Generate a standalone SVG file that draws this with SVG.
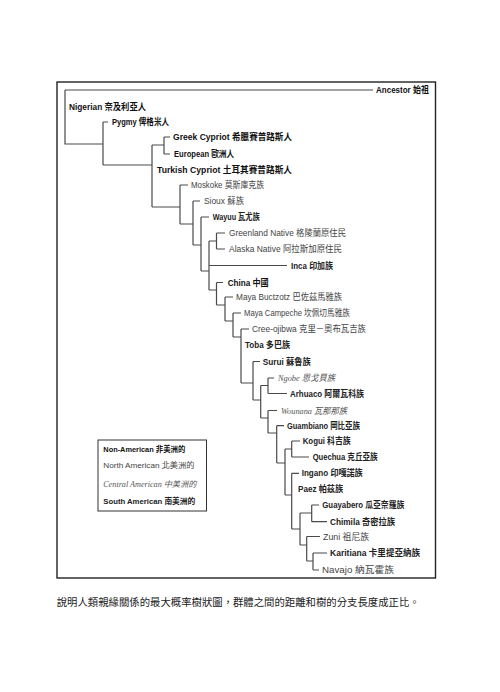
<svg xmlns="http://www.w3.org/2000/svg" width="500" height="692" viewBox="0 0 500 692">
<style>
.bg{fill:#fff}
.frame{fill:none;stroke:#222;stroke-width:1.4}
.lg{fill:none;stroke:#333;stroke-width:1}
.c{fill:none;stroke:#4a4a4a;stroke-width:1.2}
text{font-size:9px}
.n{font-family:"Liberation Sans","Noto Sans CJK TC",sans-serif;font-weight:bold;fill:#111}
.na{font-family:"Liberation Sans","Noto Sans CJK TC",sans-serif;fill:#444}
.ca{font-family:"Liberation Serif","Noto Sans CJK TC",serif;font-style:italic;fill:#555}
.sa{font-family:"Liberation Sans","Noto Sans CJK TC",sans-serif;font-weight:bold;fill:#222}
.leg{font-size:8px}
.cap{font-family:"Noto Sans CJK TC","Noto Sans CJK SC",sans-serif;font-size:10.5px;fill:#222}
</style>
<rect class="bg" x="0" y="0" width="500" height="692"/>
<rect class="frame" x="57" y="82" width="378.5" height="496"/>
<g id="connectors">
<path class="c" d="M65,90H373M65,90V144H103M103,122V165M103,122H108M103,165H152M152,145V207M152,145H164M164,137V154M164,137H170M164,154H170M152,207H180M180,185V224M180,185H188M180,224H193M193,201V245M193,201H200M193,245H201M201,217V271M201,217H209M201,271H209M209,241V290M209,241H216.5M216.5,233V249M216.5,233H225M216.5,249H225M209,265.5H287M209,290H216.5M216.5,282.5V305M216.5,282.5H223M216.5,305H225M225,297V321M225,297H233M225,321H233M233,313V337M233,313H241M233,337H241M241,329V383M241,329H249M241,383H253M253,361.5V400M253,361.5H260M253,400H260.7M260.7,385.5V418M260.7,385.5H268M268,378V393.5M268,378H274M268,393.5H287M260.7,418H268M268,410.5V433M268,410.5H277M268,433H276.7M276.7,425.7V463M276.7,425.7H284M276.7,463H285M285,449V495M285,449H291.7M291.7,441V457M291.7,441H300M291.7,457H309M285,495H291.7M291.7,473.3V529M291.7,473.3H299M291.7,529H300M300,513V545M300,513H311.7M311.7,505V521.7M311.7,505H319M311.7,521.7H327M300,545H306.7M306.7,536.5V561M306.7,536.5H320M306.7,561H313M313,553V570M313,553H327M313,570H319"/>
</g>
<g id="ancestor"><text class="n" x="376" y="93" textLength="53" lengthAdjust="spacingAndGlyphs">Ancestor 始祖</text></g>
<g id="nigerian"><text class="n" x="69" y="110" textLength="77" lengthAdjust="spacingAndGlyphs">Nigerian 奈及利亞人</text></g>
<g id="pygmy"><text class="n" x="112" y="125" textLength="57" lengthAdjust="spacingAndGlyphs">Pygmy 俾格米人</text></g>
<g id="greek-cypriot"><text class="n" x="173" y="140" textLength="119" lengthAdjust="spacingAndGlyphs">Greek Cypriot 希臘賽普路斯人</text></g>
<g id="european"><text class="n" x="174" y="157" textLength="60" lengthAdjust="spacingAndGlyphs">European 歐洲人</text></g>
<g id="turkish-cypriot"><text class="n" x="157" y="173" textLength="135" lengthAdjust="spacingAndGlyphs">Turkish Cypriot 土耳其賽普路斯人</text></g>
<g id="moskoke"><text class="na" x="191" y="188" textLength="73" lengthAdjust="spacingAndGlyphs">Moskoke 莫斯庫克族</text></g>
<g id="sioux"><text class="na" x="204" y="204" textLength="40" lengthAdjust="spacingAndGlyphs">Sioux 蘇族</text></g>
<g id="wayuu"><text class="sa" x="212.7" y="220" textLength="47" lengthAdjust="spacingAndGlyphs">Wayuu 瓦尤族</text></g>
<g id="greenland-native"><text class="na" x="229" y="235.7" textLength="117" lengthAdjust="spacingAndGlyphs">Greenland Native 格陵蘭原住民</text></g>
<g id="alaska-native"><text class="na" x="229" y="252" textLength="113" lengthAdjust="spacingAndGlyphs">Alaska Native 阿拉斯加原住民</text></g>
<g id="inca"><text class="sa" x="291" y="268.5" textLength="42" lengthAdjust="spacingAndGlyphs">Inca 印加族</text></g>
<g id="china"><text class="n" x="227.7" y="285.5" textLength="41" lengthAdjust="spacingAndGlyphs">China 中國</text></g>
<g id="maya-buctzotz"><text class="na" x="236" y="300" textLength="106" lengthAdjust="spacingAndGlyphs">Maya Buctzotz 巴佐茲馬雅族</text></g>
<g id="maya-campeche"><text class="na" x="244" y="316" textLength="106" lengthAdjust="spacingAndGlyphs">Maya Campeche 坎佩切馬雅族</text></g>
<g id="cree-ojibwa"><text class="na" x="252" y="332" textLength="114" lengthAdjust="spacingAndGlyphs">Cree-ojibwa 克里－奧布瓦吉族</text></g>
<g id="toba"><text class="sa" x="245" y="347.5" textLength="45" lengthAdjust="spacingAndGlyphs">Toba 多巴族</text></g>
<g id="surui"><text class="sa" x="262.7" y="364.5" textLength="48" lengthAdjust="spacingAndGlyphs">Surui 蘇魯族</text></g>
<g id="ngobe"><text class="ca" x="278" y="381" textLength="57" lengthAdjust="spacingAndGlyphs">Ngobe 恩戈貝族</text></g>
<g id="arhuaco"><text class="sa" x="290" y="396.5" textLength="74" lengthAdjust="spacingAndGlyphs">Arhuaco 阿爾瓦科族</text></g>
<g id="wounana"><text class="ca" x="281" y="413.5" textLength="66" lengthAdjust="spacingAndGlyphs">Wounana 瓦那那族</text></g>
<g id="guambiano"><text class="sa" x="287" y="428.7" textLength="73" lengthAdjust="spacingAndGlyphs">Guambiano 岡比亞族</text></g>
<g id="kogui"><text class="sa" x="302.7" y="444" textLength="48" lengthAdjust="spacingAndGlyphs">Kogui 科吉族</text></g>
<g id="quechua"><text class="sa" x="312.7" y="460" textLength="65" lengthAdjust="spacingAndGlyphs">Quechua 克丘亞族</text></g>
<g id="ingano"><text class="sa" x="301.7" y="476.3" textLength="61" lengthAdjust="spacingAndGlyphs">Ingano 印嘎諾族</text></g>
<g id="paez"><text class="sa" x="298" y="492" textLength="45" lengthAdjust="spacingAndGlyphs">Paez 帕茲族</text></g>
<g id="guayabero"><text class="sa" x="322.3" y="508" textLength="82" lengthAdjust="spacingAndGlyphs">Guayabero 瓜亞奈羅族</text></g>
<g id="chimila"><text class="sa" x="330" y="524.7" textLength="65" lengthAdjust="spacingAndGlyphs">Chimila 奇密拉族</text></g>
<g id="zuni"><text class="na" x="323" y="539.5" textLength="46" lengthAdjust="spacingAndGlyphs">Zuni 祖尼族</text></g>
<g id="karitiana"><text class="sa" x="330" y="556" textLength="90" lengthAdjust="spacingAndGlyphs">Karitiana 卡里提亞納族</text></g>
<g id="navajo"><text class="na" x="322" y="573" textLength="72" lengthAdjust="spacingAndGlyphs">Navajo 納瓦霍族</text></g>
<g id="legend">
<rect class="lg" x="98" y="440" width="108.5" height="71"/>
<text class="n leg" x="103.3" y="452" textLength="82" lengthAdjust="spacingAndGlyphs">Non-American 非美洲的</text>
<text class="na leg" x="103.3" y="467.5" textLength="91" lengthAdjust="spacingAndGlyphs">North American 北美洲的</text>
<text class="ca leg" x="103.3" y="487.3" textLength="93" lengthAdjust="spacingAndGlyphs">Central American 中美洲的</text>
<text class="sa leg" x="103.3" y="503.7" textLength="92" lengthAdjust="spacingAndGlyphs">South American 南美洲的</text>
</g>
<g id="caption"><text class="cap" x="56.7" y="605.5" textLength="363" lengthAdjust="spacingAndGlyphs">說明人類親緣關係的最大概率樹狀圖，群體之間的距離和樹的分支長度成正比。</text></g>
</svg>
